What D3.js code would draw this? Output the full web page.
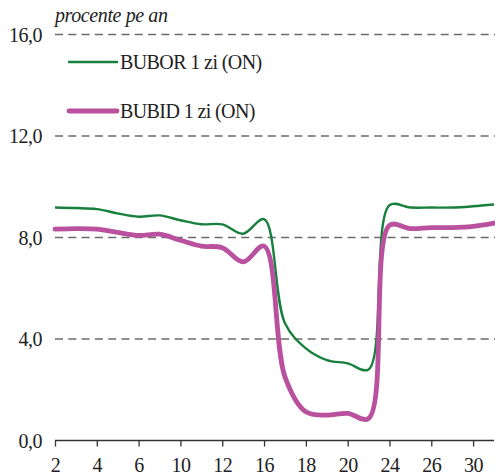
<!DOCTYPE html>
<html>
<head>
<meta charset="utf-8">
<script src="https://cdn.jsdelivr.net/npm/d3@7"></script>
<style>
  body { margin: 0; background: #fff; }
</style>
</head>
<body>
<script>
// zile lucratoare din luna
var days = ["2","3","4","5","6","9","10","11","12","13","16","17","18","19","20","23","24","25","26","27","30","31"];
var tickDays = ["2","4","6","10","12","16","18","20","24","26","30"];
var bubor = [9.18,9.16,9.12,8.95,8.82,8.87,8.68,8.52,8.52,8.15,8.72,4.62,3.63,3.17,3.04,2.80,9.27,9.18,9.18,9.18,9.23,9.30];
var bubid = [8.33,8.35,8.33,8.20,8.08,8.13,7.89,7.66,7.60,7.04,7.66,2.51,1.13,1.00,1.07,0.87,8.48,8.35,8.39,8.39,8.44,8.57];
var yTicks = [0, 4, 8, 12, 16];
var seriesNames = ["BUBOR 1 zi (ON)", "BUBID 1 zi (ON)"];

var width = 495, height = 475;
var margin = { left: 55, right: 1, top: 35, bottom: 35 };
var FONT = "'Liberation Serif', 'Times New Roman', serif";

var svg = d3.select("body").append("svg").attr("width", width).attr("height", height);

var x = d3.scalePoint().domain(days).range([margin.left, width - margin.right]);
var y = d3.scaleLinear().domain([0, 16]).range([height - margin.bottom + 0.5, margin.top - 0.5]);

var _text = function(sel) {
    return sel.style("font-family", FONT).style("font-size", "20px").style("fill", "#222");
};

// linii de grila
svg.selectAll("line.grid").data(yTicks.filter(function(d) { return d > 0; })).enter()
    .append("line").attr("class", "grid")
    .attr("x1", margin.left).attr("x2", width)
    .attr("y1", function(d) { return y(d); }).attr("y2", function(d) { return y(d); })
    .style("stroke", "#6b6b6b").style("stroke-width", 1.3).style("stroke-dasharray", "8,5.3");

// etichete axa y
svg.selectAll("text.ylab").data(yTicks).enter()
    .append("text").attr("class", "ylab")
    .attr("x", 42).attr("y", function(d) { return y(d) + 7; })
    .attr("text-anchor", "end").call(_text).style("letter-spacing", "-0.5px")
    .text(function(d) { return d3.format(".1f")(d).replace(".", ","); });

// axa x
var xAxis = d3.axisBottom(x).tickValues(tickDays).tickSize(6).tickPadding(11);
var gx = svg.append("g").attr("transform", "translate(0," + y(0) + ")").call(xAxis)
    .attr("font-family", null).attr("font-size", null);
gx.select(".domain").attr("d", "M" + margin.left + ",0H" + (width - 1)).style("stroke", "#333").style("stroke-width", 1.3);
gx.selectAll(".tick line").style("stroke", "#333").style("stroke-width", 1.3);
gx.selectAll(".tick text").call(_text).style("letter-spacing", "-0.5px");

// titlu
svg.append("text").attr("x", 55).attr("y", 21.5).call(_text).style("font-style", "italic")
    .style("letter-spacing", "-0.4px").text("procente pe an");

var line = d3.line().x(function(d, i) { return x(days[i]); }).y(function(d) { return y(d); })
    .curve(d3.curveCatmullRom.alpha(0.5));

svg.append("path").datum(bubor).attr("d", line)
    .style("fill", "none").style("stroke", "#17803d").style("stroke-width", 2.4);
svg.append("path").datum(bubid).attr("d", line)
    .style("fill", "none").style("stroke", "#b9519f").style("stroke-width", 4.8).style("stroke-linecap", "round");

// legenda
var legend = [
    { name: seriesNames[0], color: "#17803d", w: 2.4, y: 62 },
    { name: seriesNames[1], color: "#b9519f", w: 4.8, y: 111 }
];
legend.forEach(function(l) {
    svg.append("line").attr("x1", 69).attr("x2", 117).attr("y1", l.y).attr("y2", l.y)
        .style("stroke", l.color).style("stroke-width", l.w).style("stroke-linecap", "round");
    svg.append("text").attr("x", 120).attr("y", l.y + 7).call(_text)
        .style("letter-spacing", "-0.6px").text(l.name);
});
</script>
</body>
</html>
